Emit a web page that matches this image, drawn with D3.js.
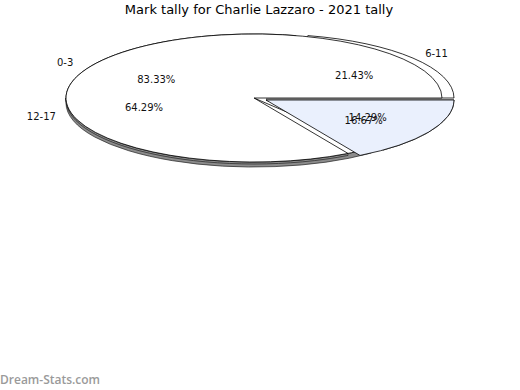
<!DOCTYPE html>
<html>
<head>
<meta charset="utf-8">
<script src="https://cdn.jsdelivr.net/npm/d3@7"></script>
<style>
  body { margin: 0; background: #fff; }
  text { font-family: "DejaVu Sans", sans-serif; }
</style>
</head>
<body>
<div id="viz"></div>
<script>
// two overlapping tallies, as the source drew them
const pie1_labels = ["0-3", "6-11"];
const pie1_counts = [5, 1];
const pie2_labels = ["0-3", "12-17", "6-11"];
const pie2_counts = [2, 9, 3];
const title = "Mark tally for Charlie Lazzaro - 2021 tally";

const width = 520, height = 390,
      cx = 254, cy = 98, rx = 188, ry = 64;

const svg = d3.select("#viz").append("svg")
  .attr("width", width)
  .attr("height", height);

// point on the ellipse, d3 angle convention (0 = 12 o'clock, clockwise)
const pt = (a, k = 1) => [rx * k * Math.sin(a), -ry * k * Math.cos(a)];

const slicePath = (a0, a1) => {
  const p0 = pt(a0), p1 = pt(a1), large = (a1 - a0) > Math.PI ? 1 : 0;
  return `M0,0L${p0}A${rx},${ry} 0 ${large} 1 ${p1}Z`;
};

const wallPath = (a0, a1, depth) => {
  const s = Math.max(a0, Math.PI / 2), e = Math.min(a1, Math.PI * 1.5);
  if (e <= s) return null;
  const p0 = pt(s), p1 = pt(e);
  return `M${p0}A${rx},${ry} 0 0 1 ${p1}L${p1[0]},${p1[1] + depth}` +
         `A${rx},${ry} 0 0 0 ${p0[0]},${p0[1] + depth}Z`;
};

const pct = d3.format(".2f");

function drawPie({labels, counts, start, explode, fills, depth}) {
  const total = d3.sum(counts);
  const arcs = d3.pie().sort(null)
    .startAngle(start).endAngle(start + 2 * Math.PI)(counts);
  const g = svg.append("g");
  arcs.forEach((d, i) => {
    const off = explode[labels[i]] || [0, 0];
    const sg = g.append("g").attr("transform", `translate(${cx + off[0]},${cy + off[1]})`);
    if (!explode[labels[i]]) {
      // normalise angles so the front wall is found
      let a0 = d.startAngle % (2 * Math.PI), a1 = a0 + (d.endAngle - d.startAngle);
      const w = wallPath(a0, a1, depth);
      if (w) sg.append("path").attr("d", w)
        .style("fill", "#8c8c8c").style("stroke", "#222").style("stroke-width", 0.7);
    }
    sg.append("path")
      .attr("d", slicePath(d.startAngle, d.endAngle))
      .style("fill", fills[labels[i]] || "#fff")
      .style("stroke", "#000")
      .style("stroke-width", 0.8);
    d.off = off;
    d.pct = pct(counts[i] / total * 100) + "%";
    d.label = labels[i];
  });
  return arcs;
}

const arcs2 = drawPie({
  labels: pie2_labels, counts: pie2_counts, start: Math.PI / 2,
  explode: {"0-3": [12, 2], "6-11": [12, 0]}, fills: {}, depth: 5
});
const arcs1 = drawPie({
  labels: pie1_labels, counts: pie1_counts, start: Math.PI * 5 / 6,
  explode: {"6-11": [12, 2]}, fills: {"6-11": "#eaf0fd"}, depth: 2
});

const mid = d => (d.startAngle + d.endAngle) / 2;

// percentage labels
[...arcs2, ...arcs1].forEach(d => {
  const p = pt(mid(d), 0.6);
  svg.append("text")
    .attr("x", cx + d.off[0] + p[0])
    .attr("y", cy + d.off[1] + p[1] + 1)
    .attr("text-anchor", "middle")
    .attr("dominant-baseline", "central")
    .style("font-size", "10px")
    .style("fill", "#111")
    .text(d.pct);
});

// category names that the source shows
const named = [arcs1[0], arcs2[1], arcs2[2]];
named.forEach(d => {
  const p = pt(mid(d), 1.16);
  svg.append("text")
    .attr("x", cx + d.off[0] + p[0])
    .attr("y", cy + d.off[1] + p[1] + 2)
    .attr("text-anchor", "middle")
    .attr("dominant-baseline", "central")
    .style("font-size", "10px")
    .style("fill", "#111")
    .text(d.label);
});

svg.append("text")
  .attr("x", 259).attr("y", 14)
  .attr("text-anchor", "middle")
  .style("font-size", "13px")
  .text(title);

svg.append("text")
  .attr("x", 0).attr("y", 384)
  .style("font-family", "'Open Sans', sans-serif")
  .style("font-size", "12px")
  .style("font-weight", 600)
  .style("fill", "#9a9a9a")
  .text("Dream-Stats.com");
</script>
</body>
</html>
